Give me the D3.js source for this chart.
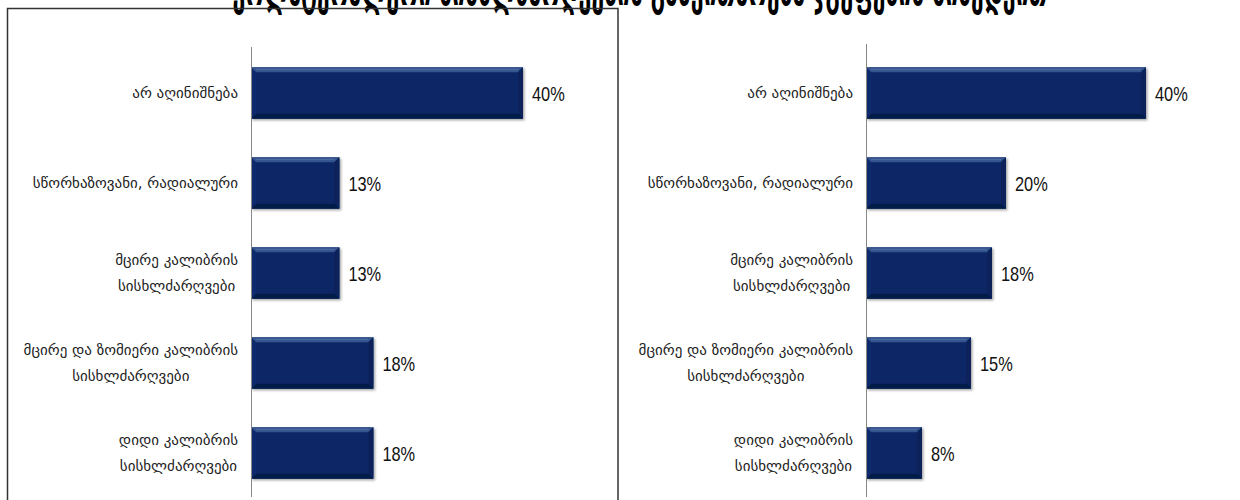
<!DOCTYPE html>
<html lang="ka">
<head>
<meta charset="utf-8">
<script src="https://cdn.jsdelivr.net/npm/d3@7"></script>
<style>
  html, body { margin: 0; padding: 0; background: #fff; }
  svg { display: block; }
</style>
</head>
<body>
<svg id="chart" width="1240" height="500"></svg>
<script>
// Categories (shared by both panels); "\n" marks a wrapped line
const categories = [
  "არ აღინიშნება",
  "სწორხაზოვანი, რადიალური",
  "მცირე  კალიბრის\nსისხლძარღვები",
  "მცირე და ზომიერი კალიბრის\nსისხლძარღვები",
  "დიდი კალიბრის\nსისხლძარღვები"
];
// Percentages per panel
const leftValues = [40, 13, 13, 18, 18];
const rightValues = [40, 20, 18, 15, 8];
const titleText = "კოლატერალური სისხლძარღვების განვითარება ჯგუფების მიხედვით";

const svg = d3.select("#chart");
const geoFont = "'DejaVu Sans', 'Noto Sans Georgian', 'Noto Sans', sans-serif";
const numFont = "'Liberation Sans', Arial, sans-serif";

// drop shadow for bars
const defs = svg.append("defs");
const f = defs.append("filter").attr("id", "barShadow")
  .attr("x", "-5%").attr("y", "-5%").attr("width", "115%").attr("height", "125%");
f.append("feDropShadow").attr("dx", 1.5).attr("dy", 1.5)
  .attr("stdDeviation", 1.2).attr("flood-color", "#000").attr("flood-opacity", 0.35);

// title (sits largely above the top edge)
svg.append("text")
  .attr("x", 640).attr("y", 5)
  .attr("text-anchor", "middle")
  .attr("font-family", geoFont)
  .attr("font-weight", "bold")
  .attr("font-size", 44)
  .attr("textLength", 815)
  .attr("lengthAdjust", "spacingAndGlyphs")
  .attr("fill", "#000")
  .text(titleText);

// frame around the left panel
svg.append("rect")
  .attr("x", 7.5).attr("y", 8.5)
  .attr("width", 610.5).attr("height", 520)
  .attr("fill", "none").attr("stroke", "#333").attr("stroke-width", 1.5);

function panel(values, axisX, maxPx, axisTop) {
  const g = svg.append("g");
  const x = d3.scaleLinear().domain([0, 40]).range([axisX, axisX + maxPx]);
  const y = d3.scaleBand().domain(categories).range([48, 498]).paddingInner(0.43).paddingOuter(0.215);

  const bars = g.selectAll("g.bar").data(categories).join("g").attr("class", "bar")
    .attr("filter", "url(#barShadow)");

  bars.each(function(c, i) {
    const x0 = x(0), x1 = x(values[i]);
    const y0 = y(c), y1 = y(c) + y.bandwidth();
    const b = 5;
    const s = d3.select(this);
    s.append("rect").attr("x", x0).attr("y", y0).attr("width", x1 - x0).attr("height", y1 - y0)
      .attr("fill", "#0a2866");
    const poly = (pts, fill) => s.append("polygon")
      .attr("points", pts.map(p => p.join(",")).join(" ")).attr("fill", fill);
    poly([[x0, y0], [x1, y0], [x1 - b, y0 + b], [x0 + b, y0 + b]], "#35548f");
    poly([[x0, y1], [x1, y1], [x1 - b, y1 - b], [x0 + b, y1 - b]], "#061a47");
    poly([[x0, y0], [x0 + b, y0 + b], [x0 + b, y1 - b], [x0, y1]], "#0c2c6e");
    poly([[x1, y0], [x1 - b, y0 + b], [x1 - b, y1 - b], [x1, y1]], "#07205a");
    s.append("line").attr("x1", x0 + b).attr("x2", x1 - b)
      .attr("y1", y0 + 2).attr("y2", y0 + 2)
      .attr("stroke", "#5d78aa").attr("stroke-width", 1).attr("opacity", 0.7);
  });

  // value labels, set in a condensed width
  g.selectAll("text.val").data(categories).join("text").attr("class", "val")
    .attr("x", (c, i) => x(values[i]) + 9)
    .attr("y", c => y(c) + y.bandwidth() / 2)
    .attr("dy", "0.36em")
    .attr("font-family", numFont)
    .attr("font-size", 21)
    .attr("fill", "#111")
    .text((c, i) => values[i] + "%")
    .each(function() {
      const w = this.getComputedTextLength();
      d3.select(this).attr("textLength", w * 0.78).attr("lengthAdjust", "spacingAndGlyphs");
    });

  // vertical category axis
  g.append("line")
    .attr("x1", axisX + 0.5).attr("x2", axisX + 0.5)
    .attr("y1", axisTop).attr("y2", 497)
    .attr("stroke", "#888").attr("stroke-width", 1);

  // category labels: wrapped lines centred within a right-aligned block
  const right = axisX - 13;
  const lineGap = 26;
  categories.forEach(c => {
    const lines = c.split("\n");
    const cy = y(c) + y.bandwidth() / 2;
    const tg = g.append("g");
    const texts = lines.map((ln, k) => tg.append("text")
      .attr("y", cy + (k - (lines.length - 1) / 2) * lineGap)
      .attr("dy", "0.35em")
      .attr("text-anchor", "middle")
      .attr("font-family", geoFont)
      .attr("font-size", 15)
      .attr("fill", "#222")
      .text(ln));
    const w = d3.max(texts, t => t.node().getComputedTextLength());
    texts.forEach(t => t.attr("x", right - w / 2));
  });
}

panel(leftValues, 251, 272, 47);
panel(rightValues, 866, 280, 44);
</script>
</body>
</html>
